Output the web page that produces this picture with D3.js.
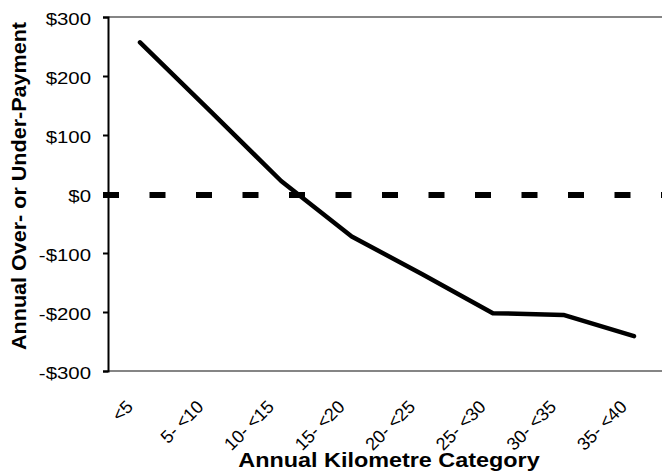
<!DOCTYPE html>
<html>
<head>
<meta charset="utf-8">
<script src="https://cdn.jsdelivr.net/npm/d3@7"></script>
<style>
  body { margin: 0; background: #fff; }
  svg { display: block; font-family: "Liberation Sans", Arial, sans-serif; }
</style>
</head>
<body>
<div id="chart"></div>
<script>

// chart data
var categories = ["<5", "5- <10", "10- <15", "15- <20", "20- <25", "25- <30", "30- <35", "35- <40"];
var payments = [257, 140, 22, -72, -136, -202, -205, -241];
var yTicks = [-300, -200, -100, 0, 100, 200, 300];

var width = 662, height = 475;
// the source picture is stretched sideways, so text is widened to match
var stretch = 1.2;

var svg = d3.select("#chart")
  .append("svg")
    .attr("width", width)
    .attr("height", height);

var plotLeft = 108, plotTop = 17, plotBottom = 371;

var x = d3.scalePoint()
  .domain(categories)
  .range([140, 634]);

var y = d3.scaleLinear()
  .domain([-300, 300])
  .range([plotBottom, plotTop]);

// gray frame lines top and bottom
svg.append("line")
  .attr("x1", plotLeft).attr("x2", width)
  .attr("y1", y(300)).attr("y2", y(300))
  .attr("stroke", "#858585").attr("stroke-width", 2);
svg.append("line")
  .attr("x1", plotLeft).attr("x2", width)
  .attr("y1", y(-300)).attr("y2", y(-300))
  .attr("stroke", "#858585").attr("stroke-width", 2);

// Y axis
var yAxis = svg.append("g")
  .attr("transform", "translate(" + plotLeft + ",0)")
  .call(d3.axisLeft(y)
    .tickValues(yTicks)
    .tickSize(5)
    .tickFormat(function(d) { return (d < 0 ? "-$" : "$") + Math.abs(d); }));
yAxis.select(".domain").attr("stroke", "#000").attr("stroke-width", 2);
yAxis.selectAll(".tick line").attr("stroke", "#000").attr("stroke-width", 2);
yAxis.selectAll(".tick text")
  .attr("x", null).attr("dy", null)
  .attr("font-size", 17)
  .attr("font-family", "Liberation Sans, Arial, sans-serif")
  .attr("fill", "#000")
  .attr("text-anchor", "end")
  .attr("transform", "translate(-17,7) scale(" + stretch + ",1)");

// zero reference (dashed)
svg.append("line")
  .attr("x1", 103).attr("x2", width)
  .attr("y1", y(0) + 1).attr("y2", y(0) + 1)
  .attr("stroke", "#000")
  .attr("stroke-width", 6)
  .attr("stroke-dasharray", "16,30.5");

// data line
svg.append("path")
  .datum(payments)
  .attr("fill", "none")
  .attr("stroke", "#000")
  .attr("stroke-width", 4.5)
  .attr("stroke-linecap", "round")
  .attr("stroke-linejoin", "round")
  .attr("d", d3.line()
    .x(function(d, i) { return x(categories[i]); })
    .y(function(d) { return y(d); }));

// category labels, rotated
svg.append("g").selectAll("text")
  .data(categories)
  .join("text")
    .attr("transform", function(d) {
      return "translate(" + (x(d) - 6) + ",408) rotate(-45)";
    })
    .attr("text-anchor", "end")
    .attr("font-size", 18)
    .attr("fill", "#000")
    .text(function(d) { return d; });

// axis titles
svg.append("text")
  .attr("transform", "translate(389,467) scale(" + stretch + ",1)")
  .attr("text-anchor", "middle")
  .attr("font-size", 19.5)
  .attr("font-weight", "bold")
  .text("Annual Kilometre Category");

svg.append("text")
  .attr("transform", "translate(26,186) rotate(-90)")
  .attr("text-anchor", "middle")
  .attr("font-size", 20)
  .attr("font-weight", "bold")
  .attr("textLength", 328)
  .attr("lengthAdjust", "spacingAndGlyphs")
  .text("Annual Over- or Under-Payment");

</script>
</body>
</html>
